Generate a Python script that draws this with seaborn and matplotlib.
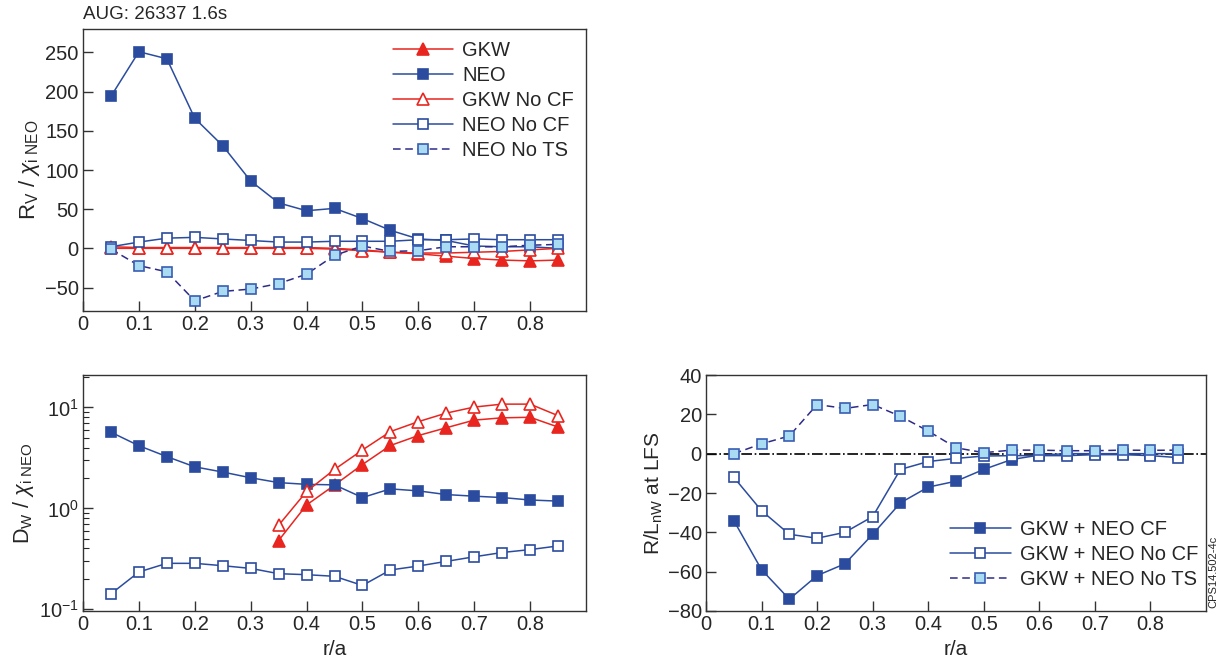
import numpy as np
import matplotlib
matplotlib.use('Agg')
import matplotlib.pyplot as plt
import seaborn as sns

# radial positions r/a
r = [0.05, 0.1, 0.15, 0.2, 0.25, 0.3, 0.35, 0.4, 0.45, 0.5, 0.55, 0.6, 0.65, 0.7, 0.75, 0.8, 0.85]
r_gkw = r[6:]

# top panel: R V / chi_i NEO
rv_gkw = [2, 1, 1, 1, 1, 1, 1, 1, 0, -2, -5, -7, -10, -13, -15, -16, -15]
rv_neo = [194, 251, 242, 166, 131, 86, 58, 48, 51, 38, 23, 12, 10, 3, 2, 2, 0]
rv_gkw_nocf = [0, 0, 0, 0, 0, 0, 0, 0, -1, -3, -5, -6, -6, -5, -4, -2, 0]
rv_neo_nocf = [2, 8, 13, 14, 12, 10, 8, 8, 9, 9, 9, 11, 11, 12, 11, 11, 11]
rv_neo_nots = [-1, -22, -30, -67, -55, -52, -45, -33, -9, 3, -4, -3, 2, 2, 2, 4, 5]

# bottom-left panel: D W / chi_i NEO (log)
dw_gkw = [0.48, 1.08, 1.7, 2.72, 4.2, 5.27, 6.3, 7.5, 7.9, 8.0, 6.4]
dw_neo = [5.69, 4.18, 3.26, 2.58, 2.29, 2.01, 1.80, 1.73, 1.71, 1.28, 1.56, 1.49, 1.37, 1.32, 1.28, 1.21, 1.18]
dw_gkw_nocf = [0.68, 1.47, 2.43, 3.79, 5.77, 7.24, 8.8, 10.1, 10.8, 10.8, 8.3]
dw_neo_nocf = [0.142, 0.234, 0.285, 0.285, 0.270, 0.254, 0.225, 0.220, 0.212, 0.172, 0.245, 0.268, 0.298, 0.331, 0.365, 0.39, 0.424]

# bottom-right panel: R/L_nW at LFS
rl_cf = [-34, -59, -74, -62, -56, -41, -25, -17, -14, -8, -3, -0.7, 0, 0, 0, 0, 0]
rl_nocf = [-12, -29, -41, -43, -40, -32, -8, -4, -2.4, -1.2, -1, -1, -1, -0.5, -0.5, -1, -2]
rl_nots = [0, 5, 9, 25, 23, 25, 19, 11.5, 3, 0.5, 1.8, 1.8, 1.5, 1.5, 1.8, 1.7, 1.8]

xticks = [0, 0.1, 0.2, 0.3, 0.4, 0.5, 0.6, 0.7, 0.8]
xtick_labels = ['0', '0.1', '0.2', '0.3', '0.4', '0.5', '0.6', '0.7', '0.8']

RED = '#e8251f'
BLUE = '#2b4c9e'
LBLUE = '#a9dcf3'
NAVY = '#2e2b88'

sns.set_theme(style='ticks')
plt.rcParams['font.family'] = ['Liberation Sans', 'DejaVu Sans']
plt.rcParams['mathtext.fontset'] = 'custom'
plt.rcParams['mathtext.rm'] = 'Liberation Sans'
plt.rcParams['mathtext.it'] = 'Liberation Sans:italic'
plt.rcParams['axes.unicode_minus'] = True

W, H = 1227, 662
fig = plt.figure(figsize=(W / 100, H / 100), dpi=100)

def box(l, t, rgt, b):
    return [l / W, 1 - b / H, (rgt - l) / W, (b - t) / H]

ax1 = fig.add_axes(box(83, 29, 586, 311))
ax2 = fig.add_axes(box(83, 375, 586, 611))
ax3 = fig.add_axes(box(706, 375, 1206, 611))

ms = 7.8
lw = 1.1

def draw(ax, x, y, color, marker, face, edge, label=None, ls='-', size=ms):
    sns.lineplot(x=x, y=y, ax=ax, color=color, marker=marker, markersize=size,
                 markerfacecolor=face, markeredgecolor=edge, markeredgewidth=1.2,
                 linewidth=lw, linestyle=ls, label=label, sort=False, legend=False)

leg_kw = dict(frameon=False, fontsize=14.5, handlelength=3.0, labelspacing=0.3,
              handletextpad=0.45)

# top panel
draw(ax1, r, rv_gkw, RED, '^', RED, RED, 'GKW', size=8.8)
draw(ax1, r, rv_neo, BLUE, 's', BLUE, BLUE, 'NEO')
draw(ax1, r, rv_gkw_nocf, RED, '^', 'white', RED, 'GKW No CF', size=8.8)
draw(ax1, r, rv_neo_nocf, BLUE, 's', 'white', BLUE, 'NEO No CF')
draw(ax1, r, rv_neo_nots, NAVY, 's', LBLUE, '#3a5db4', 'NEO No TS', ls=(0, (5, 3)))
ax1.set_ylim(-80, 280)
ax1.set_yticks([-50, 0, 50, 100, 150, 200, 250])
ax1.set_ylabel(r'R$_\mathrm{V}$ / $\chi_\mathrm{i\ NEO}$', fontsize=16, labelpad=2)
ax1.text(0, 1.02, 'AUG: 26337 1.6s', transform=ax1.transAxes, fontsize=13.5, ha='left', va='bottom')
h, l = ax1.get_legend_handles_labels()
ax1.legend(h, l, loc='upper right', borderaxespad=0.2, **leg_kw)

# bottom-left panel
draw(ax2, r_gkw, dw_gkw, RED, '^', RED, RED, size=8.8)
draw(ax2, r, dw_neo, BLUE, 's', BLUE, BLUE)
draw(ax2, r_gkw, dw_gkw_nocf, RED, '^', 'white', RED, size=8.8)
draw(ax2, r, dw_neo_nocf, BLUE, 's', 'white', BLUE)
ax2.set_yscale('log')
ax2.set_ylim(0.096, 21)
ax2.set_ylabel(r'D$_\mathrm{W}$ / $\chi_\mathrm{i\ NEO}$', fontsize=15.5, labelpad=2)
ax2.set_xlabel('r/a', fontsize=15, labelpad=4)

# bottom-right panel
ax3.axhline(0, color='black', linestyle='-.', linewidth=1.2, zorder=1)
draw(ax3, r, rl_cf, BLUE, 's', BLUE, BLUE, 'GKW + NEO CF')
draw(ax3, r, rl_nocf, BLUE, 's', 'white', BLUE, 'GKW + NEO No CF')
draw(ax3, r, rl_nots, NAVY, 's', LBLUE, '#3a5db4', 'GKW + NEO No TS', ls=(0, (5, 3)))
ax3.set_ylim(-80, 40)
ax3.set_yticks([-80, -60, -40, -20, 0, 20, 40])
ax3.set_ylabel(r'R/L$_\mathrm{nW}$ at LFS', fontsize=15, labelpad=2)
ax3.set_xlabel('r/a', fontsize=15, labelpad=4)
h, l = ax3.get_legend_handles_labels()
ax3.legend(h, l, loc='lower right', bbox_to_anchor=(1.0, 0.06), borderaxespad=0.0, **leg_kw)

for ax in (ax1, ax2, ax3):
    ax.set_xlim(0, 0.9)
    ax.set_xticks(xticks)
    ax.set_xticklabels(xtick_labels)
    ax.tick_params(which='major', direction='in', length=7, width=1, labelsize=14.5,
                   top=False, right=False, color='#333333', pad=3)
    ax.tick_params(which='minor', direction='in', length=4, width=0.8, top=False, right=False)
    for s in ax.spines.values():
        s.set_color('#333333')
        s.set_linewidth(1)

fig.text(1213 / W, 1 - 572 / H, 'CPS14.502-4c', rotation=90, fontsize=8, ha='center', va='center')

fig.savefig('out.png', dpi=100)
